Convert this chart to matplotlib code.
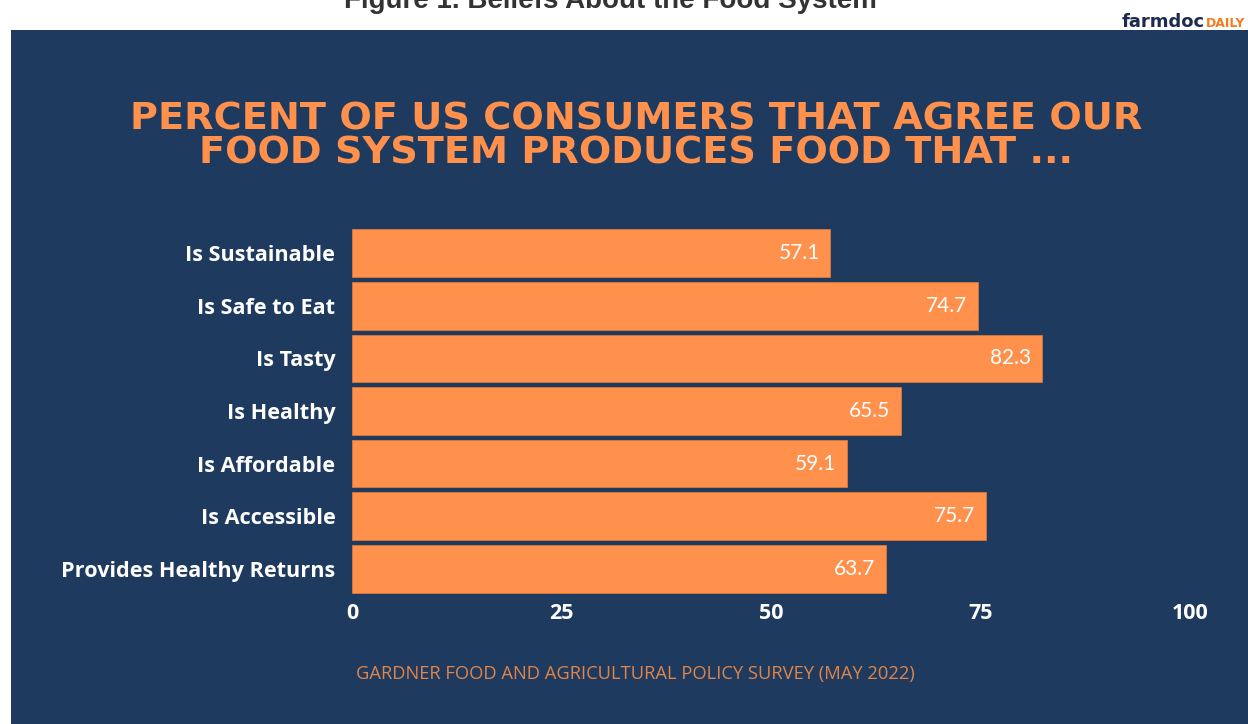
import matplotlib.pyplot as plt
from matplotlib.patches import Rectangle

# data
categories = ['Is Sustainable', 'Is Safe to Eat', 'Is Tasty', 'Is Healthy',
              'Is Affordable', 'Is Accessible', 'Provides Healthy Returns']
values = [57.1, 74.7, 82.3, 65.5, 59.1, 75.7, 63.7]
xticks = [0, 25, 50, 75, 100]

navy = '#1F3A5F'
orange = '#FF914D'

W, H = 1248, 724
fig = plt.figure(figsize=(W / 100, H / 100), dpi=100)
fig.patch.set_facecolor('white')

# dark panel
fig.patches.append(Rectangle((11 / W, 0), 1 - 11 / W, (H - 30) / H,
                             transform=fig.transFigure, facecolor=navy,
                             edgecolor='none', zorder=-1))

# cut-off figure heading and logo
fig.text(610 / W, 1 - 8 / H, 'Figure 1. Beliefs About the Food System',
         ha='center', va='baseline', fontsize=20, fontweight='bold',
         color='#333333', family='Liberation Sans')
logo = fig.text(1122 / W, 1 - 27 / H, 'farmdoc', ha='left', va='baseline',
                fontsize=13, fontweight='bold', color='#1F2A4F',
                family='DejaVu Sans')
fig.canvas.draw()
bb = logo.get_window_extent()
fig.text(bb.x1 / W + 1 / W, 1 - 27 / H, 'DAILY', ha='left', va='baseline',
         fontsize=9, fontweight='bold', color='#F47B20', family='DejaVu Sans')

# title
fig.text(636 / W, 1 - 102 / H,
         'PERCENT OF US CONSUMERS THAT AGREE OUR\nFOOD SYSTEM PRODUCES FOOD THAT ...',
         ha='center', va='top', fontsize=27.5, fontweight='bold',
         color=orange, family='DejaVu Sans', linespacing=0.92)

ax = fig.add_axes([352 / W, 1 - 595 / H, (1190 - 352) / W, 368 / H])
ax.set_facecolor('none')
ypos = range(len(categories))
ax.barh(ypos, values, height=0.91, color=orange, edgecolor='#D9773A', linewidth=0.6)
for y, v in zip(ypos, values):
    ax.text(v - 1.3, y, f'{v}', ha='right', va='center', color='white',
            fontsize=15, family='Lato')

ax.set_xlim(0, 100)
ax.set_ylim(len(categories) - 0.5, -0.5)
ax.set_xticks(xticks)
ax.set_xticklabels([str(t) for t in xticks], color='white', fontsize=15.5,
                   fontweight='bold', family='Open Sans')
ax.set_yticks(list(ypos))
ax.set_yticklabels(categories, color='white', fontsize=15.6, fontweight='bold',
                   family='Open Sans')
ax.tick_params(axis='x', length=0, pad=6)
ax.tick_params(axis='y', length=0, pad=12)
for s in ax.spines.values():
    s.set_visible(False)

# source note
fig.text(635 / W, 1 - 674 / H,
         'GARDNER FOOD AND AGRICULTURAL POLICY SURVEY (MAY 2022)',
         ha='center', va='center', fontsize=13.2, color='#E0854A',
         family='Open Sans')

fig.savefig('out.png', dpi=100)
